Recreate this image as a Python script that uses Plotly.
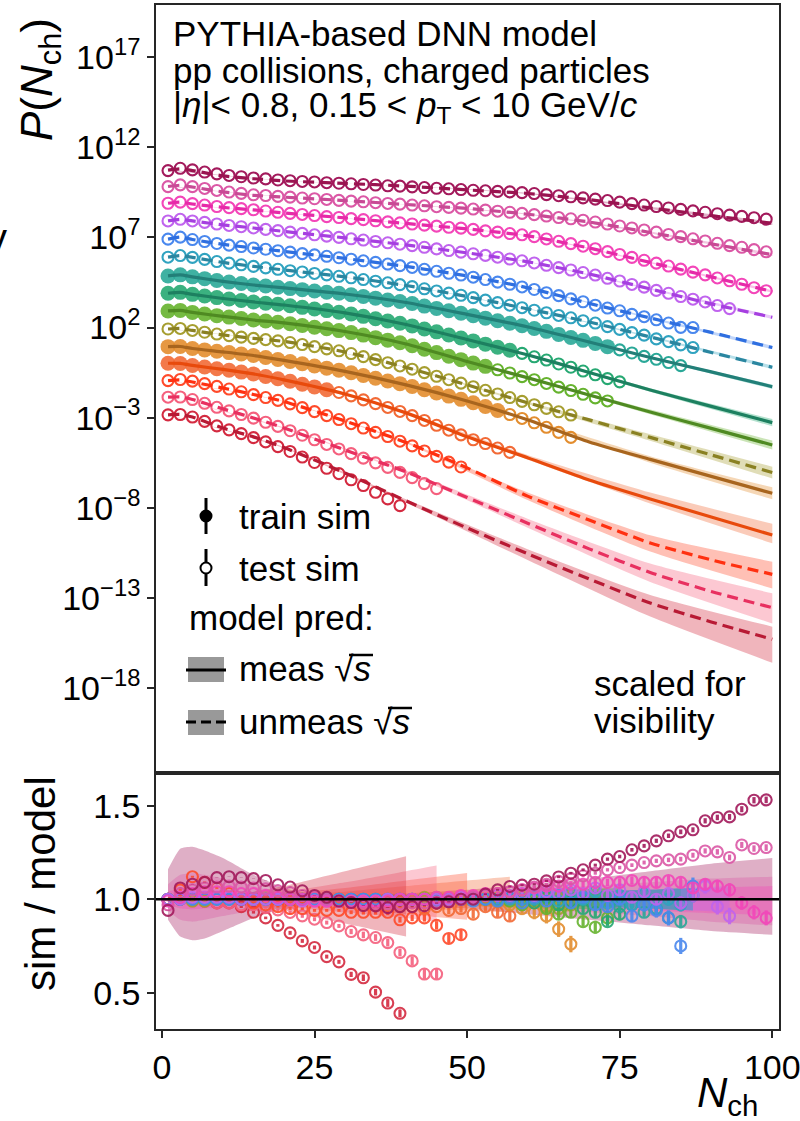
import plotly.graph_objects as go

# ---------------------------------------------------------------- data
N_ODD = list(range(1, 100, 2))
N_K = [1, 3, 5, 10, 15, 20, 30, 40, 50, 60, 70, 80, 90, 100]
N_BAND_TOP = [1, 20, 40, 60, 80, 100]

MARKER_COLORS = ["#a31a5c", "#db58a6", "#f346b9", "#c064ee", "#4a88ee", "#30a3c0", "#2aa898",
                 "#26a872", "#66b32e", "#a69e30", "#e38d2e", "#f26a36", "#ff4a2a", "#f5607e", "#d42a40"]
LINE_COLORS = ["#9a1450", "#c84a95", "#e62aa8", "#a63fe0", "#2f6fe0", "#2a86a0", "#227f78",
               "#1d8060", "#4f8a22", "#8a8122", "#a8651e", "#e84a0c", "#ff3010", "#e83060", "#b81a34"]
DASHED = [True, True, True, True, True, True, False, False, False, True, False, False, True, True, True]
TRAIN_END = [0, 0, 0, 0, 0, 0, 73, 57, 53, 0, 55, 27, 0, 0, 0]

# model prediction, log10 P (scaled), at N_K
MODEL_LOG = [
    [10.73, 10.80, 10.70, 10.41, 10.25, 10.13, 9.99, 9.84, 9.63, 9.43, 9.09, 8.63, 8.20, 7.78],
    [9.82, 9.89, 9.79, 9.52, 9.33, 9.23, 9.04, 8.82, 8.60, 8.28, 7.85, 7.27, 6.64, 6.04],
    [8.89, 8.95, 8.85, 8.66, 8.52, 8.35, 8.08, 7.77, 7.47, 7.08, 6.41, 5.61, 4.81, 4.00],
    [7.91, 8.00, 7.91, 7.69, 7.52, 7.33, 6.97, 6.58, 6.14, 5.64, 4.97, 4.14, 3.31, 2.57],
    [6.90, 7.01, 6.88, 6.61, 6.41, 6.22, 5.83, 5.39, 4.86, 4.20, 3.34, 2.53, 1.73, 0.89],
    [5.90, 5.99, 5.89, 5.61, 5.39, 5.19, 4.81, 4.33, 3.72, 3.03, 2.31, 1.48, 0.62, -0.20],
    [4.86, 4.92, 4.81, 4.56, 4.36, 4.20, 3.86, 3.39, 2.73, 2.03, 1.20, 0.34, -0.46, -1.28],
    [3.90, 3.95, 3.84, 3.61, 3.42, 3.25, 2.81, 2.17, 1.34, 0.48, -0.49, -1.46, -2.37, -3.27],
    [2.92, 2.95, 2.84, 2.62, 2.42, 2.26, 1.78, 1.09, 0.12, -0.79, -1.74, -2.68, -3.59, -4.51],
    [1.92, 1.95, 1.84, 1.59, 1.40, 1.23, 0.65, -0.21, -1.18, -2.18, -3.12, -4.09, -5.06, -6.04],
    [0.94, 0.95, 0.84, 0.65, 0.45, 0.18, -0.43, -1.18, -2.07, -3.12, -4.34, -5.31, -6.25, -7.19],
    [0.02, 0.01, -0.10, -0.32, -0.57, -0.90, -1.68, -2.73, -4.06, -5.23, -6.45, -7.50, -8.50, -9.50],
    [-0.94, -0.90, -1.02, -1.35, -1.71, -2.10, -3.18, -4.37, -5.78, -7.36, -8.67, -9.94, -10.88, -11.68],
    [-1.86, -1.85, -1.99, -2.51, -3.01, -3.57, -4.79, -6.00, -7.42, -8.86, -10.27, -11.58, -12.63, -13.53],
    [-2.84, -2.82, -2.96, -3.57, -4.06, -4.65, -6.06, -7.61, -9.11, -10.55, -11.94, -13.27, -14.32, -15.28],
]

# simulated P (scaled), log10, at N = 1, 3, 5, ...
SIM_LOG = [
    [10.70, 10.83, 10.74, 10.62, 10.52, 10.43, 10.36, 10.29, 10.24, 10.18, 10.14, 10.10, 10.07, 10.03, 10.00,
     9.97, 9.93, 9.90, 9.86, 9.84, 9.80, 9.76, 9.72, 9.69, 9.65, 9.61, 9.58, 9.55, 9.52, 9.48, 9.43, 9.37,
     9.31, 9.25, 9.19, 9.12, 9.04, 8.95, 8.87, 8.79, 8.71, 8.63, 8.55, 8.47, 8.39, 8.31, 8.23, 8.16, 8.09, 8.01],
    [9.81, 9.91, 9.81, 9.71, 9.60, 9.51, 9.44, 9.36, 9.32, 9.27, 9.23, 9.18, 9.14, 9.10, 9.05, 9.01, 8.97,
     8.92, 8.88, 8.84, 8.79, 8.75, 8.70, 8.66, 8.62, 8.57, 8.51, 8.45, 8.39, 8.33, 8.26, 8.18, 8.10, 8.03,
     7.95, 7.85, 7.74, 7.63, 7.52, 7.41, 7.29, 7.16, 7.04, 6.92, 6.80, 6.67, 6.54, 6.45, 6.32, 6.20],
    [8.89, 8.95, 8.87, 8.79, 8.71, 8.65, 8.59, 8.53, 8.46, 8.39, 8.33, 8.27, 8.21, 8.15, 8.10, 8.04, 7.98,
     7.92, 7.86, 7.80, 7.74, 7.68, 7.62, 7.56, 7.51, 7.44, 7.36, 7.29, 7.21, 7.14, 7.04, 6.91, 6.78, 6.65,
     6.51, 6.37, 6.21, 6.05, 5.89, 5.73, 5.57, 5.41, 5.24, 5.07, 4.92, 4.75, 4.59, 4.40, 4.21, 4.04],
    [7.91, 8.00, 7.91, 7.83, 7.74, 7.66, 7.59, 7.52, 7.44, 7.37, 7.29, 7.22, 7.14, 7.07, 7.00, 6.92, 6.85,
     6.77, 6.70, 6.62, 6.54, 6.45, 6.36, 6.27, 6.18, 6.09, 6.00, 5.90, 5.80, 5.70, 5.58, 5.45, 5.32, 5.19,
     5.05, 4.91, 4.73, 4.58, 4.39, 4.24, 4.06, 3.90, 3.72, 3.57, 3.42, 3.22, 3.05],
    [6.90, 7.01, 6.88, 6.77, 6.66, 6.57, 6.49, 6.41, 6.34, 6.26, 6.18, 6.10, 6.03, 5.95, 5.87, 5.79, 5.70,
     5.61, 5.52, 5.43, 5.33, 5.23, 5.12, 5.01, 4.91, 4.79, 4.66, 4.52, 4.40, 4.25, 4.11, 3.93, 3.77, 3.59,
     3.43, 3.24, 3.08, 2.93, 2.73, 2.60, 2.43, 2.25, 2.01, 2.00],
    [5.90, 5.99, 5.89, 5.78, 5.66, 5.57, 5.48, 5.39, 5.31, 5.23, 5.15, 5.08, 5.00, 4.92, 4.84, 4.76, 4.66,
     4.57, 4.48, 4.38, 4.27, 4.15, 4.03, 3.91, 3.79, 3.66, 3.52, 3.38, 3.24, 3.10, 2.96, 2.82, 2.67, 2.54,
     2.38, 2.25, 2.05, 1.90, 1.72, 1.58, 1.37, 1.22, 1.04, 0.89],
    [4.86, 4.92, 4.81, 4.71, 4.61, 4.52, 4.44, 4.36, 4.30, 4.23, 4.16, 4.10, 4.03, 3.96, 3.90, 3.82, 3.72,
     3.63, 3.53, 3.44, 3.33, 3.19, 3.06, 2.93, 2.79, 2.66, 2.52, 2.38, 2.24, 2.10, 1.95, 1.79, 1.62, 1.45,
     1.29, 1.12, 0.94, 0.76, 0.59, 0.40, 0.24, 0.06, -0.11],
    [3.90, 3.95, 3.84, 3.75, 3.66, 3.58, 3.50, 3.42, 3.35, 3.29, 3.21, 3.12, 3.03, 2.94, 2.85, 2.75, 2.62,
     2.49, 2.36, 2.24, 2.09, 1.92, 1.76, 1.59, 1.42, 1.26, 1.08, 0.91, 0.74, 0.57, 0.38, 0.20, -0.02, -0.20,
     -0.41, -0.62, -0.83, -1.01],
    [2.92, 2.95, 2.84, 2.75, 2.66, 2.58, 2.50, 2.42, 2.36, 2.29, 2.21, 2.11, 2.02, 1.93, 1.83, 1.72, 1.58,
     1.44, 1.30, 1.16, 0.99, 0.80, 0.61, 0.41, 0.22, 0.03, -0.15, -0.34, -0.52, -0.72, -0.89, -1.10, -1.30,
     -1.49, -1.70, -1.90, -2.07],
    [1.92, 1.95, 1.84, 1.74, 1.64, 1.55, 1.47, 1.40, 1.33, 1.26, 1.17, 1.06, 0.94, 0.82, 0.71, 0.56, 0.39,
     0.22, 0.05, -0.13, -0.31, -0.50, -0.70, -0.89, -1.08, -1.28, -1.48, -1.68, -1.88, -2.09, -2.28, -2.48,
     -2.67, -2.85],
    [0.94, 0.95, 0.84, 0.76, 0.69, 0.61, 0.53, 0.45, 0.34, 0.23, 0.12, -0.01, -0.13, -0.25, -0.37, -0.51,
     -0.66, -0.81, -0.96, -1.11, -1.27, -1.45, -1.63, -1.80, -1.98, -2.17, -2.38, -2.60, -2.82, -3.04, -3.28,
     -3.53, -3.81, -4.09],
    [0.02, 0.01, -0.10, -0.19, -0.28, -0.37, -0.47, -0.57, -0.71, -0.84, -0.98, -1.14, -1.29, -1.45, -1.60,
     -1.79, -2.01, -2.22, -2.43, -2.65, -2.88, -3.15, -3.42, -3.69, -3.95, -4.22, -4.43, -4.68, -4.92],
    [-0.94, -0.88, -0.97, -1.11, -1.26, -1.41, -1.56, -1.72, -1.88, -2.04, -2.23, -2.44, -2.66, -2.88, -3.10,
     -3.33, -3.57, -3.81, -4.04, -4.30, -4.56, -4.84, -5.14, -5.46, -5.73],
    [-1.86, -1.85, -1.99, -2.20, -2.42, -2.62, -2.82, -3.02, -3.25, -3.48, -3.72, -3.97, -4.22, -4.48, -4.73,
     -4.99, -5.24, -5.50, -5.75, -6.03, -6.32, -6.65, -6.93],
    [-2.84, -2.82, -2.96, -3.20, -3.45, -3.67, -3.88, -4.10, -4.34, -4.60, -4.87, -5.18, -5.48, -5.80, -6.10,
     -6.44, -6.76, -7.13, -7.50, -7.87],
]

# sim / model for the test points (after the train points of each row)
RATIO_TEST = [
    [0.94, 1.06, 1.08, 1.09, 1.115, 1.12, 1.115, 1.11, 1.10, 1.077, 1.065, 1.045, 1.02, 1.01, 0.99, 0.982,
     0.966, 0.964, 0.955, 0.96, 0.96, 0.965, 0.979, 0.986, 1.0, 1.0, 1.027, 1.05, 1.068, 1.075, 1.08, 1.098,
     1.119, 1.139, 1.157, 1.182, 1.214, 1.228, 1.264, 1.285, 1.312, 1.339, 1.36, 1.371, 1.419, 1.437, 1.44,
     1.481, 1.529, 1.531],
    [0.97, 1.03, 1.05, 1.06, 1.065, 1.07, 1.065, 1.06, 1.055, 1.045, 1.035, 1.02, 1.01, 1.0, 0.99, 0.985,
     0.98, 0.975, 0.975, 0.975, 0.98, 0.98, 0.985, 0.99, 1.0, 1.01, 1.02, 1.03, 1.04, 1.05, 1.065, 1.08,
     1.095, 1.11, 1.125, 1.139, 1.157, 1.169, 1.182, 1.196, 1.205, 1.21, 1.214, 1.235, 1.258, 1.253, 1.223,
     1.29, 1.271, 1.276],
    [0.99, 1.01, 1.03, 1.04, 1.04, 1.04, 1.03, 1.03, 1.02, 1.01, 1.0, 1.0, 0.99, 0.99, 0.99, 0.99, 0.99, 0.99,
     0.99, 1.0, 1.0, 1.0, 1.01, 1.01, 1.02, 1.02, 1.03, 1.03, 1.04, 1.05, 1.06, 1.07, 1.07, 1.08, 1.08, 1.09,
     1.09, 1.09, 1.10, 1.09, 1.09, 1.10, 1.09, 1.06, 1.08, 1.07, 1.05, 0.98, 0.93, 0.90],
    [1.0, 1.0, 1.01, 1.01, 1.01, 1.01, 1.0, 1.0, 1.0, 1.0, 1.0, 0.99, 0.99, 0.99, 0.99, 0.99, 0.99, 0.99, 1.0,
     1.0, 1.0, 1.0, 1.0, 1.0, 1.01, 1.01, 1.02, 1.02, 1.02, 1.03, 1.02, 1.04, 1.03, 1.05, 1.03, 1.06, 1.02,
     1.05, 1.01, 1.04, 1.0, 1.03, 0.98, 1.02, 1.07, 0.96, 0.91],
    [1.0, 1.0, 1.0, 1.0, 1.0, 1.0, 1.0, 1.0, 1.0, 1.0, 1.0, 1.0, 1.0, 1.0, 1.0, 1.0, 1.0, 1.0, 1.0, 1.0, 1.0,
     1.0, 0.99, 0.99, 1.0, 0.99, 1.0, 0.99, 1.01, 0.98, 1.01, 0.99, 1.02, 0.98, 1.01, 0.97, 0.96, 1.0, 0.91,
     0.97, 0.94, 0.90, 0.75, 1.07],
    [1.0, 1.0, 1.0, 1.0, 1.0, 1.0, 1.0, 1.0, 1.0, 1.0, 1.0, 1.0, 1.0, 1.0, 1.0, 1.0, 1.0, 1.0, 1.0, 1.0, 1.0,
     1.0, 1.0, 1.0, 1.0, 1.0, 1.0, 1.0, 1.0, 1.0, 1.0, 1.02, 0.99, 1.03, 1.0, 1.04, 0.98, 1.02, 0.97, 1.03,
     0.95, 1.0, 0.97, 1.02],
    [0.96, 0.97, 0.93, 0.95, 0.90, 0.88],
    [1.0, 0.98, 1.01, 0.97, 0.99, 0.95, 0.93, 0.88, 0.92],
    [1.0, 0.99, 0.97, 1.0, 0.95, 0.92, 0.93, 0.88, 0.85, 0.90],
    [1.0, 1.0, 0.99, 0.99, 1.0, 1.0, 1.0, 1.0, 1.0, 1.0, 1.0, 1.0, 1.0, 1.0, 1.0, 1.0, 1.0, 1.0, 1.0, 1.0,
     1.0, 1.01, 1.01, 1.0, 1.0, 1.0, 1.0, 0.99, 1.01, 0.98, 0.99, 0.96, 0.95, 0.97],
    [0.97, 0.95, 0.93, 0.91, 0.84, 0.76],
    [1.0, 0.99, 0.98, 0.97, 0.97, 0.96, 0.96, 0.95, 0.96, 0.94, 0.95, 0.92, 0.96, 0.93, 0.91],
    [1.0, 1.05, 1.12, 1.09, 1.06, 1.03, 1.0, 0.98, 0.97, 0.96, 0.95, 0.95, 0.94, 0.94, 0.94, 0.93, 0.93,
     0.93, 0.93, 0.89, 0.90, 0.90, 0.86, 0.79, 0.81],
    [1.0, 1.0, 0.99, 0.99, 0.98, 0.98, 0.97, 0.97, 0.955, 0.943, 0.929, 0.911, 0.893, 0.875, 0.857, 0.827,
     0.809, 0.795, 0.768, 0.715, 0.67, 0.60, 0.60],
    [1.0, 1.0, 1.0, 0.99, 0.98, 0.98, 0.96, 0.93, 0.90, 0.86, 0.82, 0.777, 0.742, 0.693, 0.665, 0.598, 0.58,
     0.503, 0.445, 0.39],
]

# relative statistical uncertainty vs N (odd N) and per-row scale
STAT_ERR = [0.002, 0.002, 0.002, 0.002, 0.002, 0.002, 0.002, 0.002, 0.002, 0.002,
            0.003, 0.003, 0.003, 0.003, 0.003, 0.004, 0.005, 0.005, 0.006, 0.006,
            0.007, 0.008, 0.009, 0.010, 0.011, 0.012, 0.013, 0.014, 0.015, 0.016,
            0.017, 0.018, 0.019, 0.020, 0.022, 0.023, 0.025, 0.027, 0.028, 0.030,
            0.032, 0.034, 0.036, 0.038, 0.040, 0.042, 0.044, 0.046, 0.048, 0.050]
ERR_SCALE = [0.35, 0.35, 0.8, 1.0, 1.2, 1.0, 1.0, 1.2, 1.5, 1.5, 2.2, 2.0, 2.5, 3.5, 3.5]

# model uncertainty band in the top panel (decades) at N_BAND_TOP
BAND_TOP_UP = [
    [0.03, 0.01, 0.01, 0.03, 0.06, 0.09], [0.02, 0.01, 0.01, 0.03, 0.05, 0.08],
    [0.02, 0.01, 0.01, 0.02, 0.04, 0.07], [0.01, 0.01, 0.01, 0.02, 0.05, 0.09],
    [0.01, 0.01, 0.01, 0.02, 0.05, 0.10], [0.01, 0.01, 0.01, 0.02, 0.05, 0.10],
    [0.01, 0.01, 0.01, 0.02, 0.05, 0.12], [0.01, 0.01, 0.02, 0.04, 0.10, 0.20],
    [0.01, 0.01, 0.02, 0.05, 0.13, 0.25], [0.01, 0.01, 0.02, 0.07, 0.18, 0.33],
    [0.01, 0.01, 0.03, 0.08, 0.18, 0.33], [0.01, 0.02, 0.04, 0.15, 0.35, 0.62],
    [0.01, 0.02, 0.05, 0.20, 0.42, 0.70], [0.01, 0.03, 0.07, 0.25, 0.50, 0.80],
    [0.01, 0.03, 0.09, 0.25, 0.45, 0.70],
]
BAND_TOP_DN = [
    [0.03, 0.01, 0.01, 0.03, 0.06, 0.09], [0.02, 0.01, 0.01, 0.03, 0.05, 0.08],
    [0.02, 0.01, 0.01, 0.02, 0.04, 0.07], [0.01, 0.01, 0.01, 0.02, 0.05, 0.09],
    [0.01, 0.01, 0.01, 0.02, 0.05, 0.10], [0.01, 0.01, 0.01, 0.02, 0.05, 0.10],
    [0.01, 0.01, 0.01, 0.02, 0.05, 0.12], [0.01, 0.01, 0.02, 0.04, 0.10, 0.20],
    [0.01, 0.01, 0.02, 0.05, 0.13, 0.25], [0.01, 0.01, 0.02, 0.07, 0.18, 0.33],
    [0.01, 0.01, 0.03, 0.08, 0.18, 0.33], [0.01, 0.02, 0.03, 0.10, 0.25, 0.46],
    [0.01, 0.02, 0.05, 0.22, 0.48, 0.78], [0.01, 0.03, 0.06, 0.25, 0.52, 0.87],
    [0.01, 0.03, 0.10, 0.35, 0.75, 1.30],
]

# model uncertainty band in the ratio panel
N_RB_FULL = [1, 3, 5, 7, 10, 15, 20, 25, 30, 40, 50, 60, 70, 80, 90, 100]
RB_N = [N_RB_FULL, N_RB_FULL, N_RB_FULL,
        [1, 20, 40, 60, 80, 93], [1, 20, 40, 60, 80, 87], [1, 20, 40, 60, 80, 87],
        [1, 20, 40, 60, 80, 85], [1, 20, 40, 60, 75], [1, 20, 40, 60, 73],
        [1, 20, 40, 60, 67], [1, 20, 40, 60, 67], [1, 10, 20, 30, 40, 50, 57],
        [1, 10, 20, 30, 40, 50], [1, 10, 20, 30, 40, 45], [1, 10, 15, 20, 30, 40]]
RB_UP = [
    [0.16, 0.27, 0.28, 0.26, 0.22, 0.13, 0.06, 0.02, 0.02, 0.03, 0.05, 0.08, 0.11, 0.15, 0.19, 0.22],
    [0.08, 0.13, 0.14, 0.13, 0.11, 0.07, 0.03, 0.015, 0.015, 0.02, 0.03, 0.05, 0.07, 0.09, 0.11, 0.12],
    [0.04, 0.06, 0.065, 0.06, 0.05, 0.035, 0.02, 0.01, 0.01, 0.015, 0.02, 0.03, 0.04, 0.05, 0.06, 0.07],
    [0.015, 0.01, 0.015, 0.03, 0.05, 0.07], [0.015, 0.01, 0.015, 0.03, 0.05, 0.06],
    [0.015, 0.01, 0.015, 0.03, 0.05, 0.06], [0.01, 0.01, 0.015, 0.03, 0.05, 0.06],
    [0.01, 0.01, 0.02, 0.04, 0.06], [0.01, 0.01, 0.02, 0.04, 0.06], [0.01, 0.01, 0.02, 0.05, 0.06],
    [0.01, 0.01, 0.025, 0.05, 0.07], [0.01, 0.01, 0.02, 0.04, 0.07, 0.10, 0.12],
    [0.01, 0.01, 0.03, 0.06, 0.10, 0.14], [0.01, 0.02, 0.04, 0.09, 0.15, 0.18],
    [0.01, 0.02, 0.04, 0.07, 0.15, 0.23],
]
RB_DN = [
    [0.11, 0.20, 0.22, 0.21, 0.17, 0.10, 0.05, 0.02, 0.02, 0.03, 0.05, 0.08, 0.11, 0.14, 0.17, 0.19],
    [0.06, 0.11, 0.12, 0.11, 0.09, 0.06, 0.03, 0.015, 0.015, 0.02, 0.03, 0.05, 0.07, 0.09, 0.12, 0.14],
    [0.03, 0.05, 0.055, 0.05, 0.045, 0.03, 0.02, 0.01, 0.01, 0.015, 0.02, 0.03, 0.04, 0.06, 0.075, 0.085],
    [0.015, 0.01, 0.015, 0.03, 0.05, 0.07], [0.015, 0.01, 0.015, 0.03, 0.05, 0.06],
    [0.015, 0.01, 0.015, 0.03, 0.05, 0.06], [0.01, 0.01, 0.015, 0.03, 0.05, 0.06],
    [0.01, 0.01, 0.02, 0.04, 0.06], [0.01, 0.01, 0.02, 0.04, 0.06], [0.01, 0.01, 0.02, 0.05, 0.06],
    [0.01, 0.01, 0.025, 0.05, 0.07], [0.01, 0.01, 0.02, 0.03, 0.05, 0.06, 0.07],
    [0.01, 0.01, 0.03, 0.05, 0.08, 0.11], [0.01, 0.02, 0.04, 0.07, 0.10, 0.12],
    [0.01, 0.02, 0.04, 0.06, 0.13, 0.20],
]

Y_TICK_EXP = [-18, -13, -8, -3, 2, 7, 12, 17]
X_TICKS = [0, 25, 50, 75, 100]
R_TICKS = [0.5, 1.0, 1.5]

# ---------------------------------------------------------------- style / layout helpers
FONT = "Liberation Sans, Arial, Helvetica, sans-serif"
FRAME = "#262626"
PL, PT, PW, PH = 156, 5, 623, 1024          # plot area in pixels
SPLIT_PX = 773.3
DOM_SPLIT = (PT + PH - SPLIT_PX) / PH


def xp(px):
    return (px - PL) / PW


def yp(py):
    return (PT + PH - py) / PH


def rgba(h, a):
    h = h.lstrip("#")
    return "rgba(%d,%d,%d,%.3f)" % (int(h[0:2], 16), int(h[2:4], 16), int(h[4:6], 16), a)


fig = go.Figure()

# ---- top panel: bands (lower edge, then upper edge filled down to it)
for r in range(15):
    idx = [N_K.index(n) for n in N_BAND_TOP]
    up = [10 ** (MODEL_LOG[r][i] + u) for i, u in zip(idx, BAND_TOP_UP[r])]
    dn = [10 ** (MODEL_LOG[r][i] - d) for i, d in zip(idx, BAND_TOP_DN[r])]
    fig.add_trace(go.Scatter(x=N_BAND_TOP, y=dn, mode="lines",
                             line=dict(width=0, shape="spline", smoothing=0.6),
                             hoverinfo="skip", showlegend=False, xaxis="x", yaxis="y"))
    fig.add_trace(go.Scatter(x=N_BAND_TOP, y=up, mode="lines", fill="tonexty",
                             fillcolor=rgba(MARKER_COLORS[r], 0.35),
                             line=dict(width=0, shape="spline", smoothing=0.6),
                             hoverinfo="skip", showlegend=False, xaxis="x", yaxis="y"))

# ---- top panel: sim points and model lines
for r in range(15):
    n_pts = N_ODD[:len(SIM_LOG[r])]
    vals = [10 ** v for v in SIM_LOG[r]]
    ntr = (TRAIN_END[r] + 1) // 2 if TRAIN_END[r] else 0
    if ntr:
        fig.add_trace(go.Scatter(x=n_pts[:ntr], y=vals[:ntr], mode="markers",
                                 marker=dict(symbol="circle", size=15, color=MARKER_COLORS[r],
                                             opacity=0.9, line=dict(width=0)),
                                 showlegend=False, xaxis="x", yaxis="y"))
    fig.add_trace(go.Scatter(x=n_pts[ntr:], y=vals[ntr:], mode="markers",
                             marker=dict(symbol="circle-open", size=11, color=MARKER_COLORS[r],
                                         line=dict(width=2.1, color=MARKER_COLORS[r])),
                             showlegend=False, xaxis="x", yaxis="y"))
    fig.add_trace(go.Scatter(x=N_K, y=[10 ** v for v in MODEL_LOG[r]], mode="lines",
                             line=dict(color=LINE_COLORS[r], width=3.2, shape="spline", smoothing=0.6,
                                       dash="11px,6px" if DASHED[r] else "solid"),
                             showlegend=False, xaxis="x", yaxis="y"))

# ---- bottom panel: bands
for r in range(15):
    xs = RB_N[r]
    hi = [1 + u for u in RB_UP[r]]
    lo = [1 - d for d in RB_DN[r]]
    fig.add_trace(go.Scatter(x=xs, y=lo, mode="lines",
                             line=dict(width=0, shape="spline", smoothing=0.5),
                             hoverinfo="skip", showlegend=False, xaxis="x2", yaxis="y2"))
    fig.add_trace(go.Scatter(x=xs, y=hi, mode="lines", fill="tonexty",
                             fillcolor=rgba(MARKER_COLORS[r], 0.35),
                             line=dict(width=0, shape="spline", smoothing=0.5),
                             hoverinfo="skip", showlegend=False, xaxis="x2", yaxis="y2"))

# ---- bottom panel: ratio points
for r in reversed(range(15)):
    ntr = (TRAIN_END[r] + 1) // 2 if TRAIN_END[r] else 0
    n_test = N_ODD[ntr:len(SIM_LOG[r])]
    rat = RATIO_TEST[r]
    m = min(len(n_test), len(rat))
    n_test, rat = n_test[:m], rat[:m]
    err = [STAT_ERR[N_ODD.index(k)] * ERR_SCALE[r] for k in n_test]
    fig.add_trace(go.Scatter(x=n_test, y=rat, mode="markers",
                             marker=dict(symbol="circle-open", size=11, color=MARKER_COLORS[r],
                                         line=dict(width=2.1, color=MARKER_COLORS[r])),
                             error_y=dict(type="data", array=err, visible=True, thickness=3.2,
                                          width=0, color=MARKER_COLORS[r]),
                             opacity=0.9, showlegend=False, xaxis="x2", yaxis="y2"))

# ---------------------------------------------------------------- axes
axis_common = dict(showline=True, mirror=True, linecolor=FRAME, linewidth=1.6, showgrid=False,
                   zeroline=False, ticks="outside", ticklen=7, tickwidth=1.6, tickcolor=FRAME,
                   automargin=False, tickfont=dict(size=34, color="black", family=FONT))

fig.update_layout(
    width=800, height=1121, margin=dict(l=PL, r=800 - PL - PW, t=PT, b=1121 - PT - PH, pad=0,
                                        autoexpand=False),
    paper_bgcolor="white", plot_bgcolor="white", showlegend=False,
    font=dict(family=FONT, color="black"),
    xaxis=dict(axis_common, domain=[0, 1], anchor="y", range=[-0.97, 101.1],
               showticklabels=False, ticks=""),
    yaxis=dict(axis_common, domain=[DOM_SPLIT, 1], anchor="x", type="log", range=[-22.71, 19.88],
               tickvals=[10.0 ** e for e in Y_TICK_EXP],
               ticktext=["10<sup>%s</sup>" % (str(e).replace("-", "\u2212")) for e in Y_TICK_EXP]),
    xaxis2=dict(axis_common, domain=[0, 1], anchor="y2", range=[-0.97, 101.1],
                tickvals=X_TICKS, ticktext=[str(v) for v in X_TICKS], ticklabeloverflow="allow"),
    yaxis2=dict(axis_common, domain=[0, DOM_SPLIT], anchor="x2", range=[0.306, 1.673],
                tickvals=R_TICKS, ticktext=["%.1f" % v for v in R_TICKS]),
)

# ---------------------------------------------------------------- text
def label(text, x, y, size=35, xanchor="left", angle=0):
    fig.add_annotation(text=text, x=xp(x), y=yp(y), xref="paper", yref="paper", showarrow=False,
                       xanchor=xanchor, yanchor="middle", textangle=angle,
                       font=dict(size=size, color="black", family=FONT))


label("PYTHIA-based DNN model", 171, 33)
label("pp collisions, charged particles", 171, 70)
label("|<i>\u03b7</i>|&lt; 0.8, 0.15 &lt; <i>p</i><sub>T</sub> &lt; 10 GeV/<i>c</i>", 171, 107)
label("train sim", 237, 516)
label("test sim", 237, 568)
label("model pred:", 187, 617)
label("meas \u221a<i>s</i>", 237, 668)
label("unmeas \u221a<i>s</i>", 237, 721)
label("scaled for", 592, 683)
label("visibility", 592, 720)
label("<i>P</i>(<i>N</i><sub>ch</sub>)", 40, 80, size=44, xanchor="center", angle=-90)
label("sim / model", 40, 884, size=42, xanchor="center", angle=-90)
label("<i>N</i><sub>ch</sub>", 695, 1095, size=42)
label("y", 9, 238, size=40, xanchor="right")

# ---------------------------------------------------------------- legend glyphs & reference line
def pshape(**kw):
    base = dict(xref="paper", yref="paper", layer="above")
    base.update(kw)
    fig.add_shape(**base)


pshape(type="line", x0=xp(206), x1=xp(206), y0=yp(498), y1=yp(534), line=dict(color="black", width=3))
pshape(type="circle", x0=xp(199.5), x1=xp(212.5), y0=yp(509.5), y1=yp(522.5), fillcolor="black",
       line=dict(width=0))
pshape(type="line", x0=xp(206), x1=xp(206), y0=yp(549), y1=yp(586), line=dict(color="black", width=3))
pshape(type="circle", x0=xp(200.5), x1=xp(211.5), y0=yp(562.5), y1=yp(573.5), fillcolor="white",
       line=dict(color="black", width=2))
pshape(type="rect", x0=xp(188), x1=xp(224), y0=yp(657), y1=yp(682), fillcolor="#999999",
       line=dict(width=0))
pshape(type="line", x0=xp(186), x1=xp(226), y0=yp(670), y1=yp(670), line=dict(color="black", width=3))
pshape(type="rect", x0=xp(188), x1=xp(224), y0=yp(710), y1=yp(735), fillcolor="#999999",
       line=dict(width=0))
pshape(type="line", x0=xp(186), x1=xp(226), y0=yp(722), y1=yp(722),
       line=dict(color="black", width=3, dash="10px,5px"))
# overlines of the square roots
pshape(type="line", x0=xp(349), x1=xp(373), y0=yp(655), y1=yp(655), line=dict(color="black", width=2.5))
pshape(type="line", x0=xp(388), x1=xp(412), y0=yp(708), y1=yp(708), line=dict(color="black", width=2.5))

fig.add_shape(type="line", xref="x2 domain", yref="y2", x0=0, x1=1, y0=1.0, y1=1.0,
              line=dict(color="black", width=2.6), layer="above")

fig.write_html("out.html")
